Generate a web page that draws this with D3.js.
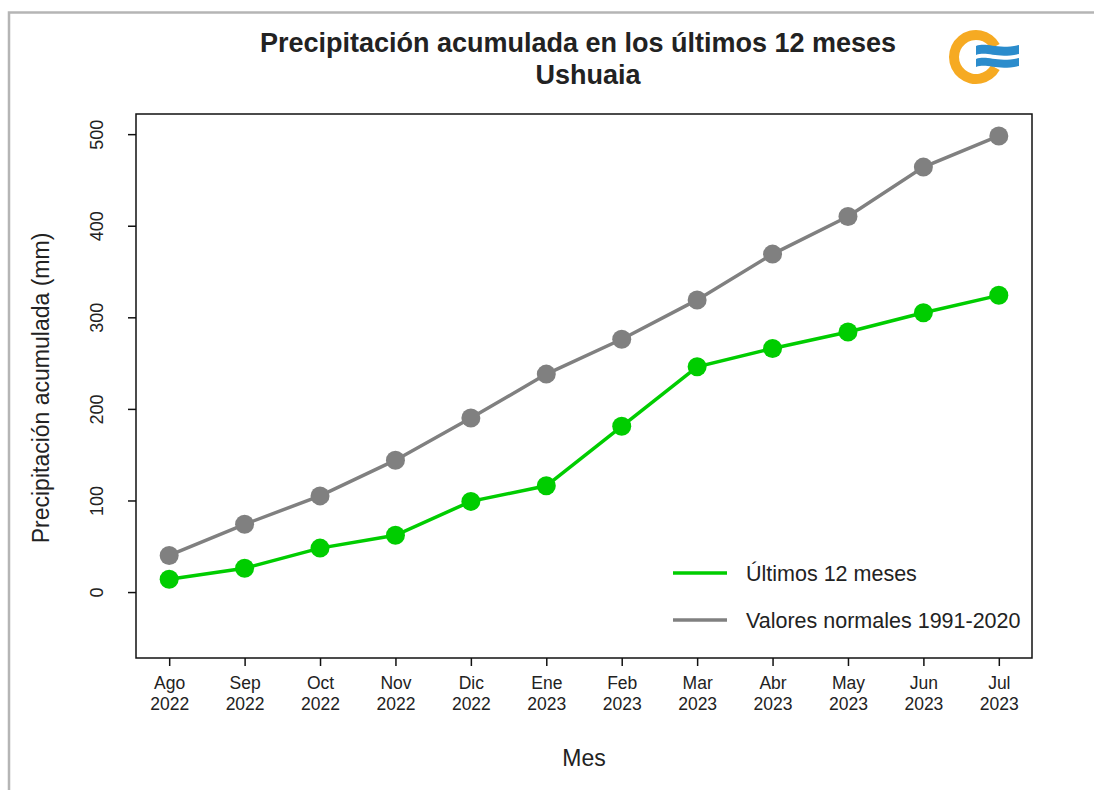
<!DOCTYPE html>
<html>
<head>
<meta charset="utf-8">
<script src="https://d3js.org/d3.v7.min.js"></script>
<style>
body { margin: 0; background: white; }
svg text { font-family: "Liberation Sans", Arial, sans-serif; fill: #222; }
</style>
</head>
<body>
<svg id="chart" width="1094" height="790"></svg>
<script>
// month labels (two lines each)
var meses = ["Ago","Sep","Oct","Nov","Dic","Ene","Feb","Mar","Abr","May","Jun","Jul"];
var anios = ["2022","2022","2022","2022","2022","2023","2023","2023","2023","2023","2023","2023"];
// accumulated precipitation, mm
var ultimos = [14, 26, 48, 62, 99, 116, 181, 246, 266, 284, 305, 324];
var normales = [40, 74, 105, 144, 190, 238, 276, 319, 369, 410, 464, 498];
var yTicks = [0, 100, 200, 300, 400, 500];

var svg = d3.select("#chart");
var pLeft = 136, pRight = 1032, pTop = 114, pBottom = 658;

// R style: limits padded 4%
var x = d3.scaleLinear().domain([0.56, 12.44]).range([pLeft, pRight]);
var y = d3.scaleLinear().domain([-72, 522]).range([pBottom, pTop]);

// outer frame of the picture
svg.append("path")
  .attr("d", "M9,790 V12.5 H1094")
  .attr("fill", "none").attr("stroke", "#b5b5b5").attr("stroke-width", 2.5);

// title
svg.append("text").attr("x", 578).attr("y", 52).attr("text-anchor", "middle")
  .style("font-size", "27px").style("font-weight", "bold")
  .text("Precipitación acumulada en los últimos 12 meses");
svg.append("text").attr("x", 588).attr("y", 84).attr("text-anchor", "middle")
  .style("font-size", "27px").style("font-weight", "bold")
  .text("Ushuaia");

// logo
var logo = svg.append("g").attr("transform", "translate(976,57)");
var ring = d3.arc().innerRadius(17).outerRadius(27)
  .startAngle(Math.PI * 0.5 + 0.5).endAngle(Math.PI * 2.5 - 0.5);
logo.append("path").attr("d", ring()).attr("fill", "#f6aa22");
logo.append("path")
  .attr("d", "M0,-11 C12,-15 20,-7 43,-12 L43,-3 C20,2 12,-6 0,-2 Z")
  .attr("fill", "#2b8ccc");
logo.append("path")
  .attr("d", "M0,2 C12,-2 20,6 43,1 L43,9 C20,14 12,6 0,10 Z")
  .attr("fill", "#2b8ccc");

// axes
var xAxis = svg.append("g").attr("transform", "translate(0," + pBottom + ")")
  .call(d3.axisBottom(x).tickValues(d3.range(1, 13)).tickSize(8).tickFormat(""));
xAxis.select(".domain").remove();
xAxis.selectAll(".tick line").attr("stroke", "#111").attr("stroke-width", 1.5);
xAxis.selectAll(".tick").each(function(d, i) {
  var t = d3.select(this).append("text").attr("text-anchor", "middle")
    .style("font-size", "17.5px").attr("fill", "#222");
  t.append("tspan").attr("x", 0).attr("y", 31).text(meses[i]);
  t.append("tspan").attr("x", 0).attr("y", 52).text(anios[i]);
});

var yAxis = svg.append("g").attr("transform", "translate(" + pLeft + ",0)")
  .call(d3.axisLeft(y).tickValues(yTicks).tickSize(8).tickFormat(""));
yAxis.select(".domain").remove();
yAxis.selectAll(".tick line").attr("stroke", "#111").attr("stroke-width", 1.5);
yAxis.selectAll(".tick").append("text")
  .attr("transform", "translate(-33,0) rotate(-90)")
  .attr("text-anchor", "middle").attr("fill", "#222")
  .style("font-size", "18px")
  .text(function(d) { return d; });

// plot box
svg.append("rect").attr("x", pLeft).attr("y", pTop)
  .attr("width", pRight - pLeft).attr("height", pBottom - pTop)
  .attr("fill", "none").attr("stroke", "#111").attr("stroke-width", 1.5);

// axis titles
svg.append("text").attr("x", 584).attr("y", 766).attr("text-anchor", "middle")
  .style("font-size", "23px").text("Mes");
svg.append("text").attr("transform", "translate(49,388) rotate(-90)")
  .attr("text-anchor", "middle").style("font-size", "23px")
  .text("Precipitación acumulada (mm)");

// series
var series = [
  { name: "Valores normales 1991-2020", values: normales, color: "#808080" },
  { name: "Últimos 12 meses", values: ultimos, color: "#00cd00" }
];
var line = d3.line().x(function(d, i) { return x(i + 1); }).y(function(d) { return y(d); });
series.forEach(function(s) {
  svg.append("path").datum(s.values).attr("d", line)
    .attr("fill", "none").attr("stroke", s.color).attr("stroke-width", 3.5);
  svg.append("g").selectAll("circle").data(s.values).enter().append("circle")
    .attr("cx", function(d, i) { return x(i + 1); })
    .attr("cy", function(d) { return y(d); })
    .attr("r", 9.5).attr("fill", s.color);
});

// legend
var leg = svg.append("g").attr("transform", "translate(673,573)");
[series[1], series[0]].forEach(function(s, i) {
  leg.append("line").attr("x1", 0).attr("x2", 54)
    .attr("y1", i * 47).attr("y2", i * 47)
    .attr("stroke", s.color).attr("stroke-width", 3.5);
  leg.append("text").attr("x", 73).attr("y", i * 47).attr("dy", "0.36em")
    .style("font-size", "21.5px").text(s.name);
});
</script>
</body>
</html>
